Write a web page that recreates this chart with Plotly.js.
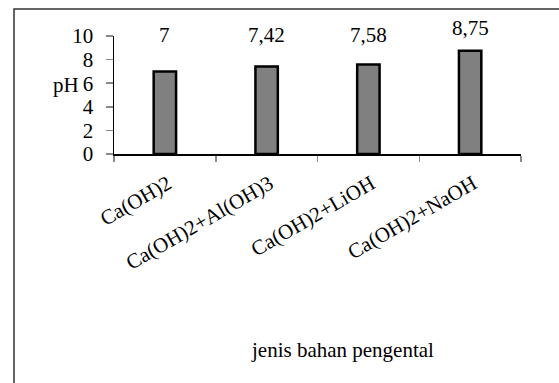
<!DOCTYPE html>
<html>
<head>
<meta charset="utf-8">
<script src="https://cdn.plot.ly/plotly-3.0.1.min.js"></script>
<style>html,body{margin:0;padding:0;background:#fff;}#chart{width:559px;height:383px;}</style>
</head>
<body>
<div id="chart"></div>
<script>
const categories = ["Ca(OH)2", "Ca(OH)2+Al(OH)3", "Ca(OH)2+LiOH", "Ca(OH)2+NaOH"];
const phValues = [7, 7.42, 7.58, 8.75];
const valueLabels = ["7", "7,42", "7,58", "8,75"];
const yTicks = [0, 2, 4, 6, 8, 10];
const xTitle = "jenis bahan pengental";
const yTitle = "pH";

const W = 559, H = 383;
const M = {l: 114, r: 38, t: 36, b: 229};
const pw = W - M.l - M.r, ph = H - M.t - M.b;
const px2x = p => (p - M.l) / pw;
const py2y = p => 1 - (p - M.t) / ph;
const Y_MAX = 10;

const FONT = {family: "Liberation Serif", size: 21, color: "#000"};

const trace = {
  type: "bar",
  x: categories,
  y: phValues,
  marker: {color: "#808080", line: {color: "#000", width: 2.5}},
  hoverinfo: "skip"
};

const annotations = categories.map((c, i) => ({
  x: c, y: Math.max(10.1, phValues[i] + 1.95) / Y_MAX, xref: "x", yref: "paper",
  text: valueLabels[i], showarrow: false, font: FONT, yanchor: "middle"
}));
annotations.push({
  x: px2x(81), y: 6 / Y_MAX, xref: "paper", yref: "paper", xanchor: "right", yanchor: "middle",
  text: yTitle, showarrow: false, font: FONT, yshift: -2
});
annotations.push({
  x: px2x(342), y: py2y(350), xref: "paper", yref: "paper", xanchor: "center", yanchor: "middle",
  text: xTitle, showarrow: false, font: FONT
});

const layout = {
  width: W, height: H,
  margin: M,
  paper_bgcolor: "#fff", plot_bgcolor: "#fff",
  showlegend: false,
  bargap: 0.78,
  font: FONT,
  xaxis: {
    type: "category",
    showline: true, linecolor: "#000", linewidth: 1.5,
    ticks: "outside", tickson: "boundaries", ticklen: 6, tickcolor: "#888", tickwidth: 1.5,
    tickangle: -30, tickfont: FONT,
    ticklabelstandoff: 8, ticklabelshift: 3,
    showgrid: false, zeroline: false, fixedrange: true
  },
  yaxis: {
    range: [0, Y_MAX], tickvals: yTicks, ticktext: yTicks.map(String),
    showline: true, linecolor: "#000", linewidth: 1.5,
    ticks: "outside", ticklen: 7, tickcolor: "#888", tickwidth: 1.5,
    tickfont: FONT, ticklabelstandoff: 8,
    showgrid: false, zeroline: false, fixedrange: true
  },
  annotations: annotations,
  shapes: [{
    type: "rect", xref: "paper", yref: "paper",
    x0: px2x(14), x1: px2x(600), y0: py2y(420), y1: py2y(9),
    line: {color: "#333", width: 1.5}, fillcolor: "rgba(0,0,0,0)", layer: "below"
  }]
};

Plotly.newPlot("chart", [trace], layout, {displayModeBar: false, staticPlot: true});
</script>
</body>
</html>
